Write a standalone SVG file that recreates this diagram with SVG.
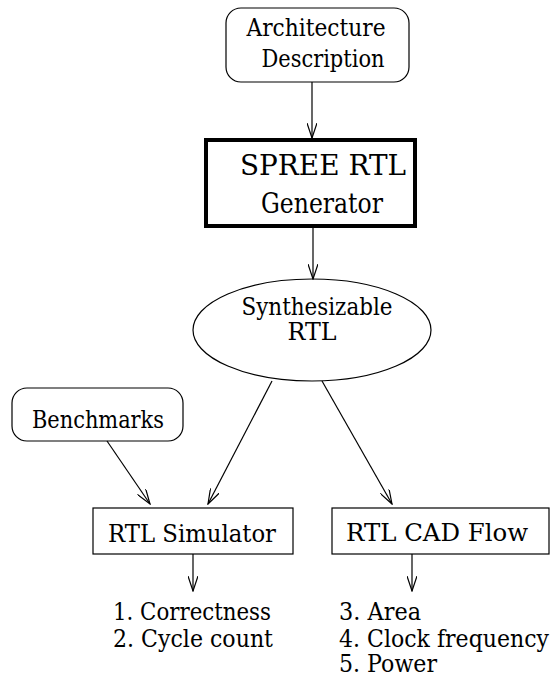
<svg xmlns="http://www.w3.org/2000/svg" width="551" height="676" viewBox="0 0 551 676">
  <style>
    .shape { fill: #ffffff; stroke: #000000; stroke-width: 1.2; }
    .heavy { fill: #ffffff; stroke: #000000; stroke-width: 4; }
    .edge { fill: none; stroke: #000000; stroke-width: 1.2; marker-end: url(#arrow); }
    .lbl { font-family: 'DejaVu Serif', 'Liberation Serif', serif; font-size: 24px; fill: #000000; }
    .c { text-anchor: middle; }
    .big { font-size: 28px; }
  </style>
  <defs>
    <marker id="arrow" viewBox="0 0 16 10" markerUnits="userSpaceOnUse" markerWidth="16" markerHeight="10" refX="15" refY="5" orient="auto">
      <path d="M0,0 L15,5 L0,10" fill="none" stroke="#000000" stroke-width="1.2"/>
    </marker>
  </defs>

  <g id="arch-desc">
    <rect class="shape" x="226" y="8" width="183" height="74" rx="15" ry="15"/>
    <text class="lbl c" x="316" y="36" textLength="139" lengthAdjust="spacingAndGlyphs">Architecture</text>
    <text class="lbl c" x="323" y="67" textLength="123" lengthAdjust="spacingAndGlyphs">Description</text>
  </g>

  <g id="spree-gen">
    <rect class="heavy" x="206" y="140" width="209" height="86"/>
    <text class="lbl c big" x="323" y="175" textLength="166" lengthAdjust="spacingAndGlyphs">SPREE RTL</text>
    <text class="lbl c big" x="322" y="213" textLength="122" lengthAdjust="spacingAndGlyphs">Generator</text>
  </g>

  <g id="synth-rtl">
    <ellipse class="shape" cx="312" cy="330" rx="119" ry="51"/>
    <text class="lbl c" x="317" y="315" textLength="151" lengthAdjust="spacingAndGlyphs">Synthesizable</text>
    <text class="lbl c" x="312" y="340" textLength="49" lengthAdjust="spacingAndGlyphs">RTL</text>
  </g>

  <g id="benchmarks">
    <rect class="shape" x="12" y="388" width="171" height="53" rx="15" ry="15"/>
    <text class="lbl c" x="98" y="428" textLength="132" lengthAdjust="spacingAndGlyphs">Benchmarks</text>
  </g>

  <g id="rtl-sim">
    <rect class="shape" x="93" y="508" width="200" height="46"/>
    <text class="lbl c" x="192" y="542" textLength="168" lengthAdjust="spacingAndGlyphs">RTL Simulator</text>
  </g>

  <g id="rtl-cad">
    <rect class="shape" x="332" y="508" width="217" height="46"/>
    <text class="lbl c" x="437" y="541" textLength="182" lengthAdjust="spacingAndGlyphs">RTL CAD Flow</text>
  </g>

  <g id="sim-results">
    <text class="lbl" x="113" y="620" textLength="158" lengthAdjust="spacingAndGlyphs">1. Correctness</text>
    <text class="lbl" x="113" y="647" textLength="160" lengthAdjust="spacingAndGlyphs">2. Cycle count</text>
  </g>

  <g id="cad-results">
    <text class="lbl" x="339" y="620" textLength="82" lengthAdjust="spacingAndGlyphs">3. Area</text>
    <text class="lbl" x="339" y="647" textLength="210" lengthAdjust="spacingAndGlyphs">4. Clock frequency</text>
    <text class="lbl" x="339" y="672" textLength="98" lengthAdjust="spacingAndGlyphs">5. Power</text>
  </g>

  <g id="connectors">
    <line class="edge" x1="312" y1="82" x2="312" y2="138"/>
    <line class="edge" x1="313" y1="228" x2="313" y2="279"/>
    <line class="edge" x1="107" y1="441" x2="150" y2="504"/>
    <line class="edge" x1="272" y1="381" x2="208" y2="504"/>
    <line class="edge" x1="322" y1="381" x2="392" y2="504"/>
    <line class="edge" x1="193" y1="554" x2="193" y2="591"/>
    <line class="edge" x1="412" y1="554" x2="412" y2="591"/>
  </g>
</svg>
